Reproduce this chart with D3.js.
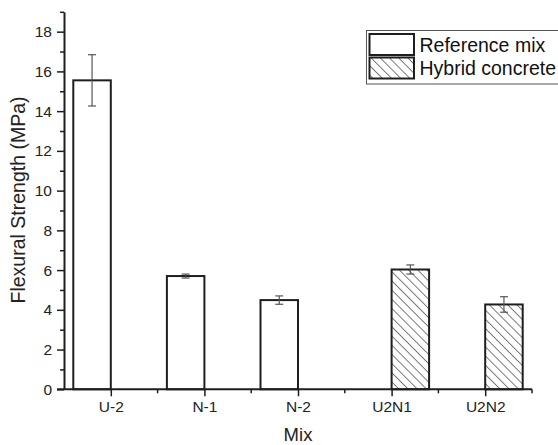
<!DOCTYPE html>
<html>
<head>
<meta charset="utf-8">
<script src="https://cdn.jsdelivr.net/npm/d3@7"></script>
<style>
  html, body { margin: 0; padding: 0; background: #fff; }
  svg { display: block; font-family: "Liberation Sans", Arial, sans-serif; }
</style>
</head>
<body>
<svg id="chart" width="558" height="445"></svg>
<script>
// Flexural strength per mix, two series: reference mixes and hybrid concrete
const categories = ["U-2", "N-1", "N-2", "U2N1", "U2N2"];
const seriesNames = ["Reference mix", "Hybrid concrete"];
const referenceMix = [15.55, 5.70, 4.49, null, null];
const referenceErr = [1.29, 0.10, 0.21, null, null];
const hybridConcrete = [null, null, null, 6.03, 4.27];
const hybridErr = [null, null, null, 0.23, 0.39];
const yTicks = [0, 2, 4, 6, 8, 10, 12, 14, 16, 18];
const yMinorTicks = [1, 3, 5, 7, 9, 11, 13, 15, 17, 19];

const svg = d3.select("#chart");
const ink = "#1e1e1e";
const font = "Liberation Sans, Arial, sans-serif";

const x = d3.scaleBand().domain(categories).range([64, 532]).paddingInner(0).paddingOuter(0);
const xSub = d3.scaleBand().domain(seriesNames).range([0, x.bandwidth()]).paddingInner(0).paddingOuter(0.248);
const y = d3.scaleLinear().domain([0, 19]).range([389.3, 11.8]);

// back-slash hatch for the hybrid series
const defs = svg.append("defs");
const pat = defs.append("pattern")
  .attr("id", "hatch")
  .attr("patternUnits", "userSpaceOnUse")
  .attr("width", 6.5).attr("height", 6.5)
  .attr("patternTransform", "rotate(-45)");
pat.append("rect").attr("width", 6.5).attr("height", 6.5).attr("fill", "#fff");
pat.append("line").attr("x1", 0).attr("y1", 0).attr("x2", 0).attr("y2", 6.5)
  .attr("stroke", "#444").attr("stroke-width", 1.4);

const rows = [];
categories.forEach((c, i) => {
  if (referenceMix[i] != null) rows.push({ cat: c, s: seriesNames[0], v: referenceMix[i], e: referenceErr[i] });
  if (hybridConcrete[i] != null) rows.push({ cat: c, s: seriesNames[1], v: hybridConcrete[i], e: hybridErr[i] });
});

// bars
svg.append("g").selectAll("rect").data(rows).join("rect")
  .attr("x", d => x(d.cat) + xSub(d.s))
  .attr("y", d => y(d.v))
  .attr("width", xSub.bandwidth())
  .attr("height", d => y(0) - y(d.v))
  .attr("fill", d => d.s === seriesNames[0] ? "#fff" : "url(#hatch)")
  .attr("stroke", ink)
  .attr("stroke-width", 2);

// error bars
const eg = svg.append("g").attr("stroke", "#555").attr("stroke-width", 1.2);
rows.forEach(d => {
  const cx = x(d.cat) + xSub(d.s) + xSub.bandwidth() / 2;
  eg.append("line").attr("x1", cx).attr("x2", cx).attr("y1", y(d.v + d.e)).attr("y2", y(d.v - d.e));
  eg.append("line").attr("x1", cx - 4).attr("x2", cx + 4).attr("y1", y(d.v + d.e)).attr("y2", y(d.v + d.e));
  eg.append("line").attr("x1", cx - 4).attr("x2", cx + 4).attr("y1", y(d.v - d.e)).attr("y2", y(d.v - d.e));
});

// y axis
const yAxis = svg.append("g").attr("transform", "translate(64,0)");
yAxis.append("g")
  .call(d3.axisLeft(y).tickValues(yMinorTicks).tickSize(4).tickFormat(""))
  .call(g => g.select(".domain").remove())
  .selectAll("line").attr("stroke", ink).attr("stroke-width", 1.5);
yAxis.append("g")
  .call(d3.axisLeft(y).tickValues(yTicks).tickSize(7).tickSizeOuter(0).tickPadding(5).tickFormat(d3.format("d")))
  .call(g => g.select(".domain").attr("stroke", ink).attr("stroke-width", 2))
  .call(g => g.selectAll("line").attr("stroke", ink).attr("stroke-width", 1.5))
  .call(g => g.selectAll("text").attr("font-size", 15.5).attr("fill", "#222").attr("font-family", font));

// x axis
const xAxis = svg.append("g").attr("transform", `translate(0,${y(0)})`);
const bounds = categories.slice(1).map(c => x(c)).concat([x.range()[1]]);
xAxis.selectAll("line.minor").data(bounds).join("line")
  .attr("class", "minor")
  .attr("x1", d => d).attr("x2", d => d).attr("y1", 0).attr("y2", 4)
  .attr("stroke", ink).attr("stroke-width", 1.5);
xAxis.append("g")
  .call(d3.axisBottom(d3.scalePoint().domain(categories).range([x(categories[0]) + x.bandwidth() / 2, x(categories[4]) + x.bandwidth() / 2]))
    .tickSize(7).tickPadding(5))
  .call(g => g.select(".domain").remove())
  .call(g => g.selectAll("line").attr("stroke", ink).attr("stroke-width", 1.5))
  .call(g => g.selectAll("text").attr("font-size", 15.5).attr("fill", "#222").attr("font-family", font));
xAxis.append("line").attr("x1", 57).attr("x2", x.range()[1]).attr("y1", 0).attr("y2", 0)
  .attr("stroke", ink).attr("stroke-width", 2);

// axis titles
svg.append("text")
  .attr("transform", "translate(25,200) rotate(-90)")
  .attr("text-anchor", "middle")
  .attr("font-size", 19.5).attr("fill", "#222")
  .text("Flexural Strength (MPa)");
svg.append("text")
  .attr("x", 298).attr("y", 441)
  .attr("text-anchor", "middle")
  .attr("font-size", 18.5).attr("fill", "#222")
  .text("Mix");

// legend
const lg = svg.append("g");
lg.append("rect").attr("x", 366.5).attr("y", 30.5).attr("width", 220).attr("height", 53.5)
  .attr("fill", "#fff").attr("stroke", "#555").attr("stroke-width", 1);
seriesNames.forEach((s, i) => {
  const top = 34 + i * 23.5;
  lg.append("rect").attr("x", 369.5).attr("y", top).attr("width", 44.5).attr("height", 21)
    .attr("fill", i === 0 ? "#fff" : "url(#hatch)").attr("stroke", ink).attr("stroke-width", 2);
  lg.append("text").attr("x", 419.5).attr("y", top + 17.5)
    .attr("font-size", 19.5).attr("fill", "#111").text(s);
});
</script>
</body>
</html>
